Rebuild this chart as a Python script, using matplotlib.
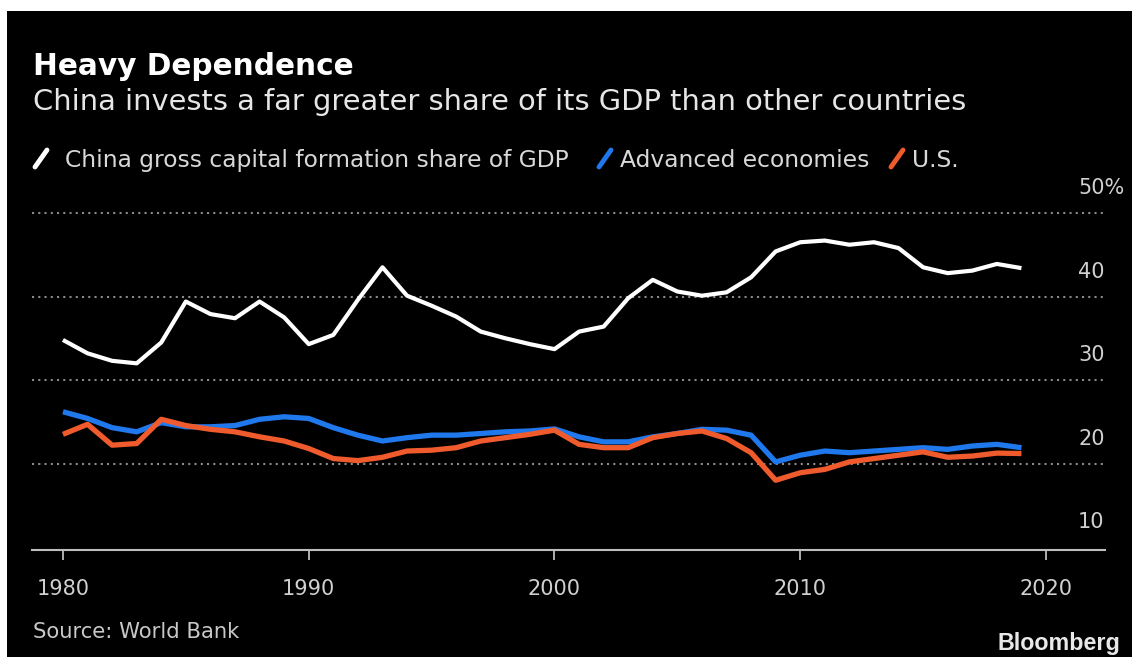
import matplotlib
matplotlib.use('Agg')
import matplotlib.pyplot as plt
from matplotlib.lines import Line2D
from matplotlib.patches import Rectangle
import matplotlib.transforms as mtransforms

# ---------------- data ----------------
years = list(range(1980, 2020))
china = [34.8, 33.2, 32.3, 32.0, 34.5, 39.4, 37.9, 37.4, 39.4, 37.5,
         34.3, 35.4, 39.6, 43.5, 40.1, 38.9, 37.6, 35.8, 35.0, 34.3,
         33.7, 35.8, 36.4, 39.8, 42.0, 40.6, 40.1, 40.5, 42.3, 45.4,
         46.5, 46.7, 46.2, 46.5, 45.8, 43.5, 42.8, 43.1, 43.9, 43.4]
advanced = [26.2, 25.4, 24.3, 23.8, 24.9, 24.4, 24.4, 24.55, 25.3, 25.6,
            25.4, 24.3, 23.4, 22.7, 23.1, 23.4, 23.4, 23.6, 23.8, 23.9,
            24.15, 23.2, 22.6, 22.6, 23.2, 23.6, 24.1, 24.0, 23.4, 20.2,
            21.0, 21.5, 21.3, 21.5, 21.7, 21.9, 21.7, 22.1, 22.3, 21.9]
us = [23.5, 24.7, 22.2, 22.4, 25.3, 24.55, 24.1, 23.8, 23.2, 22.7,
      21.8, 20.6, 20.35, 20.75, 21.5, 21.6, 21.9, 22.7, 23.1, 23.5,
      24.0, 22.3, 21.9, 21.9, 23.1, 23.6, 23.9, 23.0, 21.3, 18.0,
      18.9, 19.3, 20.2, 20.6, 21.0, 21.4, 20.75, 20.9, 21.25, 21.2]
x_ticks = [1980, 1990, 2000, 2010, 2020]
y_ticks = [10, 20, 30, 40, 50]
y_labels = ['10', '20', '30', '40', '50%']
grid_values = [20, 30, 40, 50]
legend_labels = ['China gross capital formation share of GDP',
                 'Advanced economies', 'U.S.']

title = 'Heavy Dependence'
subtitle = 'China invests a far greater share of its GDP than other countries'
source = 'Source: World Bank'

WHITE = '#ffffff'
BLUE = '#1f78ec'
ORANGE = '#ef5b2c'

# ---------------- figure ----------------
W, H = 1132, 657
fig = plt.figure(figsize=(W / 100, H / 100), dpi=100)
fig.patch.set_facecolor('white')
fig.add_artist(Rectangle((7 / W, 0), 1 - 7 / W, 1 - 11 / H,
                         transform=fig.transFigure, facecolor='black',
                         edgecolor='none', zorder=0))
renderer = fig.canvas.get_renderer()


def fx(px):
    return px / W


def fy(py):
    return 1 - py / H


def fit(t, target):
    w = t.get_window_extent(renderer).width
    t.set_fontsize(t.get_fontsize() * target / w)
    return t


ax = fig.add_axes([fx(32), fy(550), (1105 - 32) / W, (550 - 213) / H])
ax.set_facecolor('none')
ax.set_xlim(1978.74, 2022.40)
ax.set_ylim(9.65, 50)

for v in grid_values:
    ax.axhline(v, color='#8a8a8a', lw=1.5, ls=(0, (1, 2)), zorder=1,
               clip_on=False)

ax.plot(years, advanced, color=BLUE, lw=3.8, solid_joinstyle='round',
        solid_capstyle='butt', zorder=3)
ax.plot(years, us, color=ORANGE, lw=3.8, solid_joinstyle='round',
        solid_capstyle='butt', zorder=4)
ax.plot(years, china, color=WHITE, lw=3.0, solid_joinstyle='round',
        solid_capstyle='butt', zorder=5)

for s in ['top', 'right', 'left']:
    ax.spines[s].set_visible(False)
ax.spines['bottom'].set_color('#bdbdbd')
ax.spines['bottom'].set_linewidth(1.5)

ax.set_xticks(x_ticks)
ax.set_xticklabels([str(x) for x in x_ticks])
ax.tick_params(axis='x', direction='out', length=7, width=1.3,
               color='#bdbdbd', labelcolor='#d0d0d0', pad=14)
ax.set_yticks([])

# measure tick label size
probe = fig.text(0, 0, '1980', fontsize=14)
fit(probe, 53)
tick_fs = probe.get_fontsize()
probe.remove()
for lbl in ax.get_xticklabels():
    lbl.set_fontsize(tick_fs)

trans = mtransforms.blended_transform_factory(ax.transAxes, ax.transData) + \
    mtransforms.ScaledTranslation(0, 25 / 100, fig.dpi_scale_trans)
lab_x = (1078 - 32) / (1105 - 32)
for v, lab in zip(y_ticks, y_labels):
    ax.text(lab_x, v, lab, transform=trans, ha='left', va='center',
            fontsize=tick_fs, color='#d0d0d0', clip_on=False)

# ---------------- texts ----------------
t = fig.text(fx(33), fy(75), title, fontsize=20, fontweight='bold',
             color='white', ha='left', va='baseline')
fit(t, 321)
t = fig.text(fx(33), fy(110), subtitle, fontsize=17, color='#e6e6e6',
             ha='left', va='baseline')
fit(t, 933)

t1 = fig.text(fx(65), fy(167), legend_labels[0], fontsize=14,
              color='#d8d8d8', ha='left', va='baseline')
fit(t1, 505)
lfs = t1.get_fontsize()
fig.text(fx(620), fy(167), legend_labels[1], fontsize=lfs, color='#d8d8d8',
         ha='left', va='baseline')
fig.text(fx(912), fy(167), legend_labels[2], fontsize=lfs, color='#d8d8d8',
         ha='left', va='baseline')
for x0, c in [(35, WHITE), (599, BLUE), (891, ORANGE)]:
    fig.add_artist(Line2D([fx(x0), fx(x0 + 12)], [fy(167), fy(150)],
                          transform=fig.transFigure, color=c, lw=3.5,
                          solid_capstyle='round'))

t = fig.text(fx(33), fy(638), source, fontsize=14, color='#c8c8c8',
             ha='left', va='baseline')
fit(t, 207)
t = fig.text(fx(1120), fy(650), 'Bloomberg', fontsize=14, fontweight='bold',
             family='Liberation Sans', color='#e8e8e8', ha='right',
             va='baseline')
fit(t, 123)

fig.savefig('out.png', dpi=100, facecolor=fig.get_facecolor())
